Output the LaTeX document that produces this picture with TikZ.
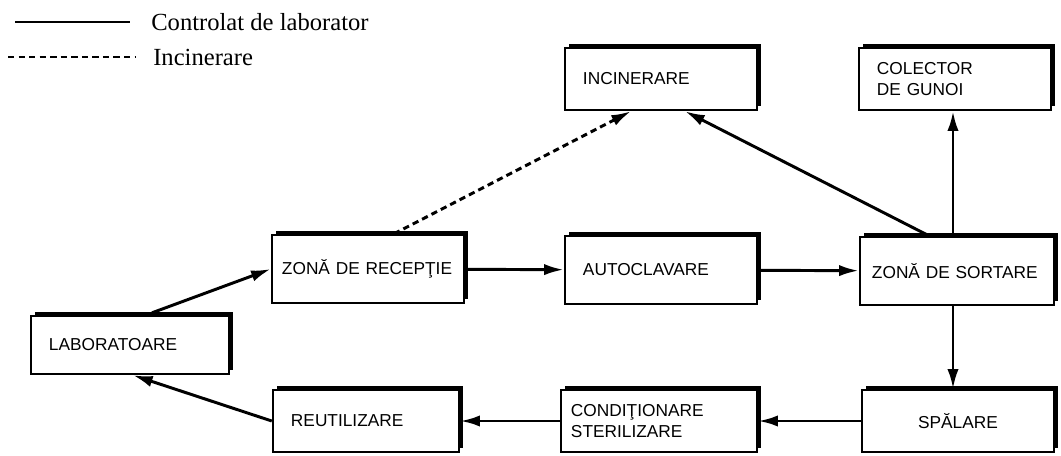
\documentclass[tikz,border=0pt]{standalone}
\usepackage{fontspec}
\setmainfont{Liberation Serif}
\newfontfamily\boxfont{Liberation Sans}
\usepackage{tikz}
\usetikzlibrary{arrows.meta,calc,shadows}

\begin{document}
\begin{tikzpicture}[x=0.025cm,y=-0.025cm,
  stage/.style={draw,line width=1.7pt,fill=white,
    drop shadow={shadow xshift=2.8pt,shadow yshift=2.8pt,fill=black,opacity=1},
    font=\boxfont\fontsize{12.3}{14.5}\selectfont,align=left,
    inner xsep=0.45cm,text width=#1,minimum height=1.7cm},
  stage/.default=3.9cm,
  flow/.style={-{Latex[length=14pt,width=8pt]},line width=2.1pt},
  burn/.style={flow,dash pattern=on 4.5pt off 3pt},
  keytext/.style={font=\fontsize{17.5}{20}\selectfont,anchor=west,inner sep=0pt},
]
\useasboundingbox (0,0) rectangle (1061,455);

% legend
\coordinate (solidA) at (15,22);
\coordinate (solidB) at (130,22);
\coordinate (dashA) at (8,57);
\coordinate (dashB) at (135,57);
\draw[line width=2.1pt] (solidA) -- (solidB);
\draw[line width=2.1pt,dash pattern=on 4.5pt off 3pt] (dashA) -- (dashB);
\node[keytext] (keyctl) at (151,22) {Controlat de laborator};
\node[keytext] (keyinc) at (153,57) {Incinerare};

% boxes
\node[stage=4.05cm,minimum height=1.45cm] (lab) at (130,345) {LABORATOARE};
\node[stage=4.3cm,inner xsep=0.25cm] (recv) at (368,269) {ZONĂ DE RECEPŢIE};
\node[stage] (auto) at (661,270) {AUTOCLAVARE};
\node[stage=4.25cm,inner xsep=0.3cm] (sort) at (957,271) {ZONĂ DE SORTARE};
\node[stage,minimum height=1.55cm] (incin) at (661,79) {INCINERARE};
\node[stage,minimum height=1.55cm] (colect) at (955,79) {COLECTOR\\DE GUNOI};
\node[stage=3.75cm,minimum height=1.55cm] (reuse) at (366,421) {REUTILIZARE};
\node[stage=4.4cm,inner xsep=0.25cm,minimum height=1.55cm] (cond) at (659,421) {CONDIŢIONARE\\STERILIZARE};
\node[stage,align=center,minimum height=1.55cm] (wash) at (958,421) {SPĂLARE};

% connectors
\draw[flow] ($(lab.north)+(22,-2)$) -- (recv.west);
\draw[flow] (recv) -- (auto);
\draw[flow] (auto) -- (sort);
\draw[flow] ($(sort.north)+(-4,0)$) -- ($(colect.south)+(-2,0)$);
\draw[flow] ($(sort.north)+(-28,0)$) -- ($(incin.south)+(24,0)$);
\draw[burn] ($(recv.north)+(26,0)$) -- ($(incin.south)+(-30,0)$);
\draw[flow] ($(sort.south)+(-4,0)$) -- ($(wash.north)+(-5,0)$);
\draw[flow] (wash) -- (cond);
\draw[flow] (cond) -- (reuse);
\draw[flow] (reuse.west) -- ($(lab.south)+(3,0)$);
\end{tikzpicture}
\end{document}
